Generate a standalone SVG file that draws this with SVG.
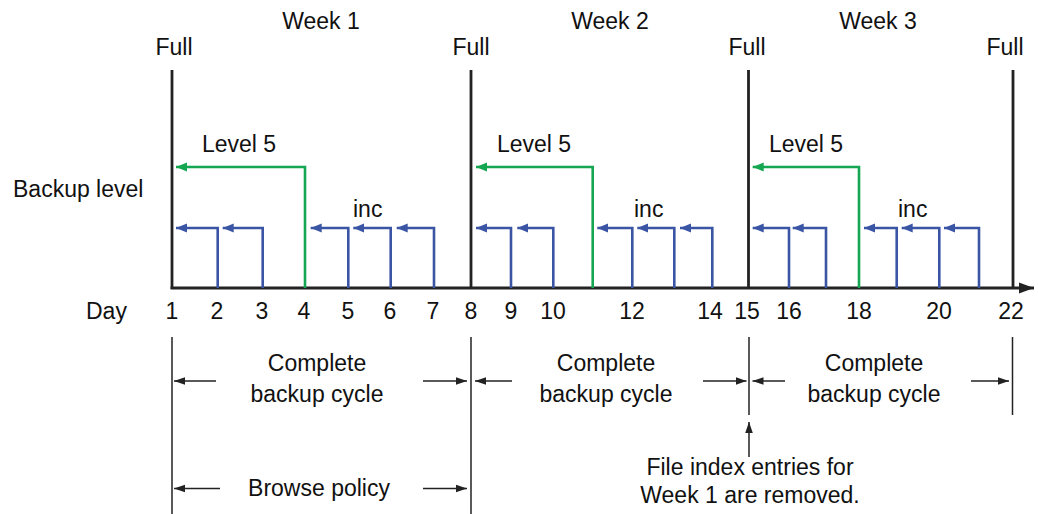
<svg xmlns="http://www.w3.org/2000/svg" width="1038" height="514" viewBox="0 0 1038 514">
<defs>
<style>
text{font-family:"Liberation Sans",Arial,sans-serif;font-size:23px;fill:#111}
.m{text-anchor:middle}
.full{stroke:#222;stroke-width:2.8;fill:none}
.thin{stroke:#222;stroke-width:1.5;fill:none}
.blue{stroke:#3b55a5;stroke-width:2.6;fill:none;marker-end:url(#ab)}
.green{stroke:#14a650;stroke-width:2.6;fill:none;marker-end:url(#ag)}
.dim{stroke:#222;stroke-width:1.5;fill:none;marker-end:url(#ak)}
</style>
<marker id="ab" markerUnits="userSpaceOnUse" markerWidth="12" markerHeight="10" refX="11" refY="5" orient="auto"><path d="M0,0.5 L11,5 L0,9.5 z" fill="#3b55a5"/></marker>
<marker id="ag" markerUnits="userSpaceOnUse" markerWidth="12" markerHeight="10" refX="11" refY="5" orient="auto"><path d="M0,0.5 L11,5 L0,9.5 z" fill="#14a650"/></marker>
<marker id="ak" markerUnits="userSpaceOnUse" markerWidth="12" markerHeight="10" refX="11" refY="5" orient="auto"><path d="M0,1.2 L11,5 L0,8.8 z" fill="#222"/></marker>
<marker id="ax" markerUnits="userSpaceOnUse" markerWidth="16" markerHeight="12" refX="15" refY="6" orient="auto"><path d="M0,0.5 L15,6 L0,11.5 z" fill="#222"/></marker>
</defs>

<g id="titles">
<text class="m" x="321" y="29">Week 1</text>
<text class="m" x="610" y="29">Week 2</text>
<text class="m" x="878" y="29">Week 3</text>
<text class="m" x="174" y="55">Full</text>
<text class="m" x="471" y="55">Full</text>
<text class="m" x="747" y="55">Full</text>
<text class="m" x="1005" y="55">Full</text>
<text x="13" y="197">Backup level</text>
<text x="86" y="319">Day</text>
</g>

<g id="axis">
<line class="full" x1="172" y1="70" x2="172" y2="289"/>
<line class="full" x1="471" y1="70" x2="471" y2="289"/>
<line class="full" x1="748.5" y1="70" x2="748.5" y2="289"/>
<line class="full" x1="1013" y1="70" x2="1013" y2="289"/>
<line x1="170.6" y1="288" x2="1034" y2="288" stroke="#222" stroke-width="2.8" marker-end="url(#ax)"/>
</g>

<g id="day-labels">
<text class="m" x="172" y="319">1</text>
<text class="m" x="217" y="319">2</text>
<text class="m" x="262" y="319">3</text>
<text class="m" x="304" y="319">4</text>
<text class="m" x="348" y="319">5</text>
<text class="m" x="390" y="319">6</text>
<text class="m" x="433" y="319">7</text>
<text class="m" x="471" y="319">8</text>
<text class="m" x="511" y="319">9</text>
<text class="m" x="553" y="319">10</text>
<text class="m" x="632" y="319">12</text>
<text class="m" x="710" y="319">14</text>
<text class="m" x="747" y="319">15</text>
<text class="m" x="789" y="319">16</text>
<text class="m" x="859" y="319">18</text>
<text class="m" x="939" y="319">20</text>
<text class="m" x="1011" y="319">22</text>
</g>

<g id="connectors">
<path class="green" d="M305,288 V167 H176"/>
<path class="green" d="M592.7,288 V167 H476"/>
<path class="green" d="M859,288 V167 H752.7"/>
<path class="blue" d="M217.7,288 V228 H176"/>
<path class="blue" d="M262.7,288 V228 H222.7"/>
<path class="blue" d="M348.3,288 V228 H310.7"/>
<path class="blue" d="M390.7,288 V228 H353.3"/>
<path class="blue" d="M434,288 V228 H396.7"/>
<path class="blue" d="M511,288 V228 H476"/>
<path class="blue" d="M553.3,288 V228 H517.3"/>
<path class="blue" d="M632.3,288 V228 H597.3"/>
<path class="blue" d="M674.3,288 V228 H637.3"/>
<path class="blue" d="M712.3,288 V228 H680"/>
<path class="blue" d="M789,288 V228 H752.7"/>
<path class="blue" d="M826,288 V228 H792.7"/>
<path class="blue" d="M896.7,288 V228 H864"/>
<path class="blue" d="M939.3,288 V228 H901.7"/>
<path class="blue" d="M979,288 V228 H944"/>
</g>

<g id="level-labels">
<text x="202" y="152">Level 5</text>
<text x="497" y="152">Level 5</text>
<text x="769" y="152">Level 5</text>
<text x="353" y="217">inc</text>
<text x="634" y="217">inc</text>
<text x="898" y="217">inc</text>
</g>

<g id="cycle-bounds">
<line class="thin" x1="172" y1="337" x2="172" y2="514"/>
<line class="thin" x1="471" y1="337" x2="471" y2="514"/>
<line class="thin" x1="749" y1="337" x2="749" y2="415"/>
<line class="thin" x1="1012.5" y1="337" x2="1012.5" y2="415"/>
</g>

<g id="cycle-arrows">
<line class="dim" x1="216" y1="381" x2="174" y2="381"/>
<line class="dim" x1="423" y1="381" x2="467" y2="381"/>
<line class="dim" x1="512" y1="381" x2="475" y2="381"/>
<line class="dim" x1="703" y1="381" x2="746.5" y2="381"/>
<line class="dim" x1="785" y1="381" x2="752.5" y2="381"/>
<line class="dim" x1="971" y1="381" x2="1009" y2="381"/>
<line class="dim" x1="220" y1="488.5" x2="174" y2="488.5"/>
<line class="dim" x1="423" y1="488.5" x2="467" y2="488.5"/>
<line class="dim" x1="749" y1="457" x2="749" y2="422"/>
</g>

<g id="cycle-week1">
<text class="m" x="317" y="371">Complete</text>
<text class="m" x="317" y="402">backup cycle</text>
</g>
<g id="cycle-week2">
<text class="m" x="606" y="371">Complete</text>
<text class="m" x="606" y="402">backup cycle</text>
</g>
<g id="cycle-week3">
<text class="m" x="874" y="371">Complete</text>
<text class="m" x="874" y="402">backup cycle</text>
</g>
<g id="browse-policy">
<text class="m" x="319" y="496">Browse policy</text>
</g>
<g id="note">
<text class="m" x="750" y="475">File index entries for</text>
<text class="m" x="750" y="503">Week 1 are removed.</text>
</g>
</svg>
